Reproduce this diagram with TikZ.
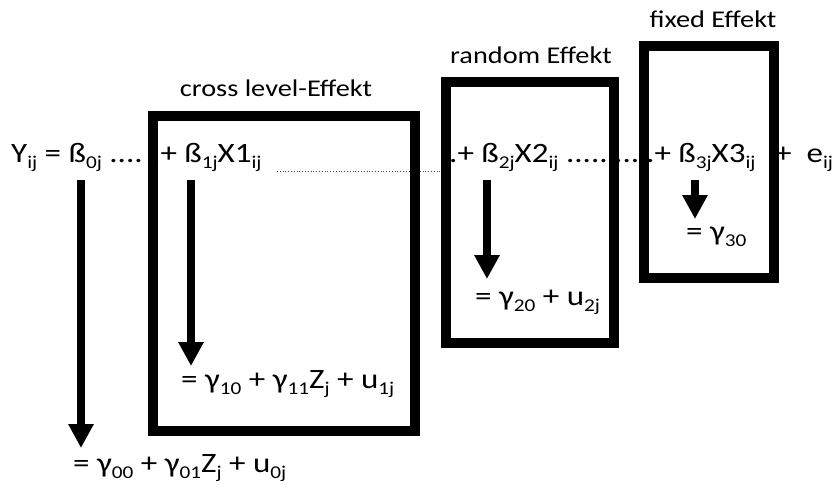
\documentclass[tikz,border=0pt]{standalone}
\usepackage{fontspec}
\setmainfont{Carlito}[FakeStretch=1.18]
\usetikzlibrary{arrows.meta}
\newcommand\sbs[1]{\raisebox{-6pt}{\fontsize{18}{18}\selectfont #1}}
\tikzset{
  eq/.style={anchor=base west, inner sep=0pt, font=\fontsize{28}{28}\selectfont},
  lbl/.style={anchor=base, inner sep=0pt, font=\fontsize{24}{24}\selectfont},
  effbox/.style={draw=black, line width=10pt},
  bigarrow/.style={line width=8pt, -{Triangle[width=24pt,length=24pt]}},
  thindots/.style={line width=0.8pt, dotted, black!70}
}
\begin{document}
\begin{tikzpicture}[x=1pt,y=-1pt]
\useasboundingbox (0,0) rectangle (836,488);
% main equation
\node[eq] (n0) at (11,162) {Y\sbs{ij} = ß\sbs{0j} ....};
\node[eq] (n1) at (152,162) {.+ ß\sbs{1j}X1\sbs{ij}};
\node[eq] (n2) at (449,162) {.+ ß\sbs{2j}X2\sbs{ij} .....};
\node[eq] (ng) at (614,162) {...};
\node[eq] (n3) at (646,162) {.+ ß\sbs{3j}X3\sbs{ij}};
\node[eq] (n4) at (775,162) {+\ \ e\sbs{ij}};
\coordinate (d1) at (277,171);
\coordinate (d2) at (446,171);
\draw[thindots] (d1) -- (d2);
% results
\node[eq] (r0) at (73,472) {= γ\sbs{00} + γ\sbs{01}Z\sbs{j} + u\sbs{0j}};
\node[eq] (r1) at (181,388) {= γ\sbs{10} + γ\sbs{11}Z\sbs{j} + u\sbs{1j}};
\node[eq] (r2) at (475,305) {= γ\sbs{20} + u\sbs{2j}};
\node[eq] (r3) at (686,240) {= γ\sbs{30}};
% arrows
\coordinate (a0) at (81,180); \coordinate (b0) at (81,448);
\coordinate (a1) at (191,180); \coordinate (b1) at (191,366);
\coordinate (a2) at (487,180); \coordinate (b2) at (487,279);
\coordinate (a3) at (695,180); \coordinate (b3) at (695,219);
\draw[bigarrow] (a0) -- (b0);
\draw[bigarrow] (a1) -- (b1);
\draw[bigarrow] (a2) -- (b2);
\draw[bigarrow] (a3) -- (b3);
% boxes
\draw[effbox] (153,116) rectangle (415,431);
\draw[effbox] (446,82) rectangle (614,343);
\draw[effbox] (644,46) rectangle (774,278);
% labels
\node[lbl] (l1) at (276,96) {cross level-Effekt};
\node[lbl] (l2) at (531,63) {random Effekt};
\node[lbl] (l3) at (713,27) {fixed Effekt};
\end{tikzpicture}
\end{document}
